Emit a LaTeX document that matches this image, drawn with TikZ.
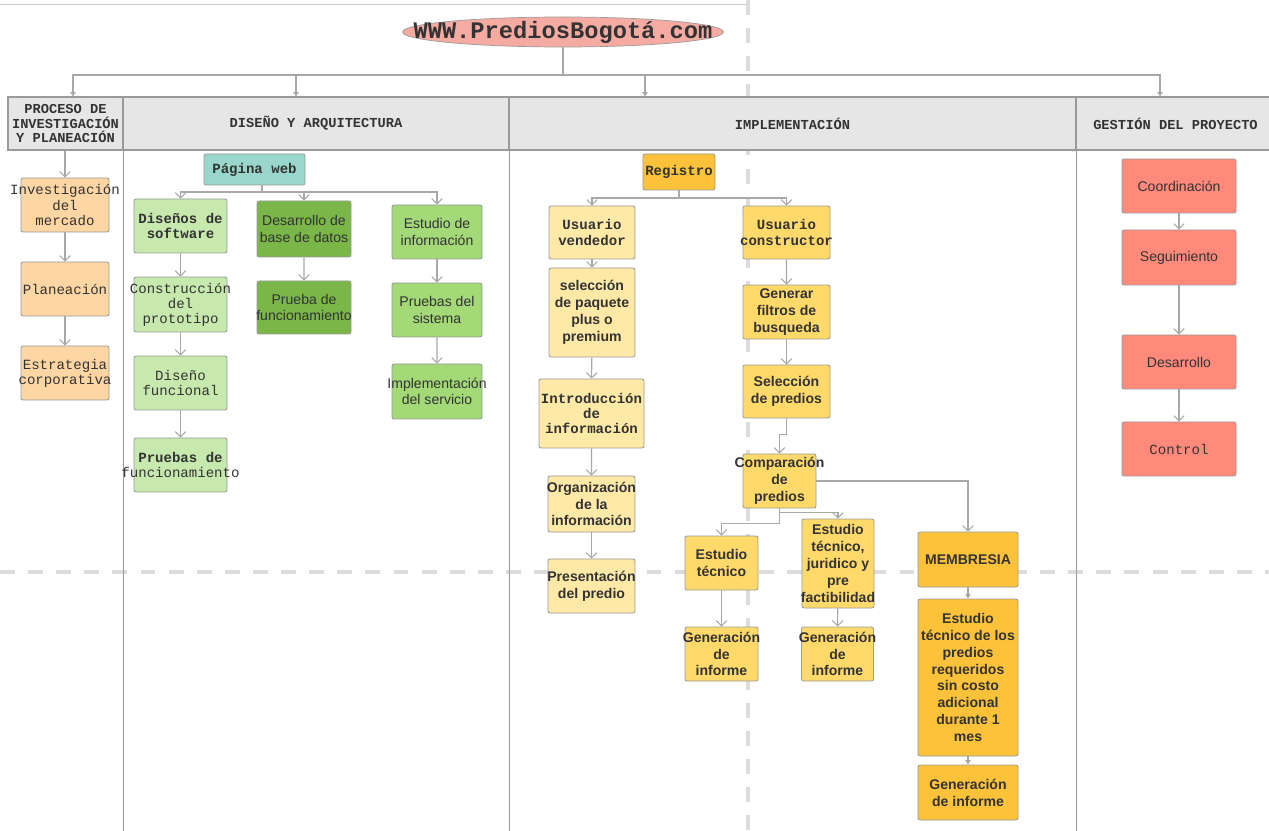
\documentclass[tikz,border=0pt]{standalone}
\usepackage{fontspec}
\setmainfont{Liberation Sans}
\setmonofont{Liberation Mono}
\usetikzlibrary{arrows.meta,shapes.geometric}
\definecolor{boxline}{HTML}{9A9A9A}
\definecolor{linkgray}{HTML}{A8A8A8}
\definecolor{txt}{HTML}{333333}
\definecolor{peach}{HTML}{FDD6A3}
\definecolor{pwteal}{HTML}{99D6CB}
\definecolor{lgreen}{HTML}{C7E9AD}
\definecolor{dgreen}{HTML}{7AB648}
\definecolor{mgreen}{HTML}{A3D977}
\definecolor{lyellow}{HTML}{FFE9A6}
\definecolor{myellow}{HTML}{FFDA6A}
\definecolor{oyellow}{HTML}{FBC23A}
\definecolor{salmon}{HTML}{FF8A7B}
\definecolor{pinkt}{HTML}{F6ABA2}
\definecolor{hdrfill}{HTML}{E6E6E6}
\definecolor{brk}{HTML}{DCDCDC}

\begin{document}
\begin{tikzpicture}[x=0.02cm,y=-0.02cm,
    box/.style args={#1x#2}{draw=boxline,line width=0.5pt,rounded corners=1.2pt,
        minimum width=#1*0.02cm,minimum height=#2*0.02cm,inner xsep=-25pt,inner ysep=0pt,
        align=center,text=txt},
    hdr/.style args={#1x#2}{draw=boxline,line width=0.6pt,fill=hdrfill,
        minimum width=#1*0.02cm,minimum height=#2*0.02cm,inner sep=0pt,align=center,text=txt,
        font=\ttfamily\bfseries\fontsize{7.8}{8.2}\selectfont},
    title/.style={ellipse,draw=boxline,fill=pinkt,minimum width=321*0.02cm,minimum height=30*0.02cm,
        inner xsep=-30pt,inner ysep=-2pt,text=txt,font=\ttfamily\bfseries\fontsize{13.5}{14}\selectfont},
    mono/.style={font=\ttfamily\fontsize{8}{8.6}\selectfont},
    monob/.style={font=\ttfamily\bfseries\fontsize{8}{8.6}\selectfont},
    sans/.style={font=\fontsize{8}{9.2}\selectfont},
    sansb/.style={font=\bfseries\fontsize{8}{9.6}\selectfont},
    link/.style={draw=linkgray,line width=0.6pt},
    tip/.style={link,-{Straight Barb[length=3pt,width=6pt]}},
    tipf/.style={link,-{Triangle[length=2.5pt,width=3pt]}},
    lane/.style={draw=boxline,line width=0.6pt},
    pagebrk/.style={draw=brk,line width=2.2pt,dash pattern=on 8.5pt off 7.5pt}]
    \useasboundingbox (0,0) rectangle (1269,831);

    \draw[link,draw=brk!80!gray,line width=0.5pt] (0,4) -- (748,4);
    \draw[pagebrk] (748,0) -- (748,831);
    \draw[pagebrk] (0,572) -- (1269,572);

    \node[hdr=115x53] (h1) at (65.5,123.5) {PROCESO DE\\INVESTIGACIÓN\\Y PLANEACIÓN};
    \node[hdr=386x53] (h2) at (316,123.5) {DISEÑO Y ARQUITECTURA};
    \node[hdr=567x53] (h3) at (792.5,123.5) {IMPLEMENTACIÓN};
    \node[hdr=199x53] (h4) at (1175.5,123.5) {GESTIÓN DEL PROYECTO};
    \draw[lane] (h1.south east) -- +(0,700);
    \draw[lane] (h2.south east) -- +(0,700);
    \draw[lane] (h3.south east) -- +(0,700);

    \node[title] (web) at (563,32) {WWW.PrediosBogotá.com};

    \node[box=88x54,fill=peach,mono] (inv) at (65,205) {Investigación\\del\\mercado};
    \node[box=88x54,fill=peach,mono] (plan) at (65,289) {Planeación};
    \node[box=88x54,fill=peach,mono] (estr) at (65,373) {Estrategia\\corporativa};

    \node[box=101x31,fill=pwteal,monob] (pw) at (254.5,169.5) {Página web};
    \node[box=93x54,fill=lgreen,monob] (dsw) at (180.5,226) {Diseños de\\software};
    \node[box=93x55,fill=lgreen,mono] (cp) at (180.5,304.5) {Construcción\\del\\prototipo};
    \node[box=93x54,fill=lgreen,mono] (df) at (180.5,383) {Diseño\\funcional};
    \node[box=93x54,fill=lgreen,mono] (pf) at (180.5,465) {{\bfseries Pruebas de}\\funcionamiento};
    \node[box=94x56,fill=dgreen,sans] (dbd) at (304,229) {Desarrollo de\\base de datos};
    \node[box=94x53,fill=dgreen,sans] (pbf) at (304,307.5) {Prueba de\\funcionamiento};
    \node[box=90x54,fill=mgreen,sans] (est) at (437,232) {Estudio de\\información};
    \node[box=90x54,fill=mgreen,sans] (psis) at (437,310) {Pruebas del\\sistema};
    \node[box=90x55,fill=mgreen,sans] (impl) at (437,391.5) {Implementación\\del servicio};

    \node[box=72x36,fill=oyellow,monob] (reg) at (679,172) {Registro};
    \node[box=86x53,fill=lyellow,monob] (uv) at (592,232.5) {Usuario\\vendedor};
    \node[box=86x89,fill=lyellow,sansb] (paq) at (592,312.5) {selección\\de paquete\\plus o\\premium};
    \node[box=105x69,fill=lyellow,monob] (intro) at (591.5,413.5) {Introducción\\de\\información};
    \node[box=87x56,fill=lyellow,sansb] (org) at (591.5,504) {Organización\\de la\\información};
    \node[box=87x54,fill=lyellow,sansb] (pres) at (591.5,586) {Presentación\\del predio};
    \node[box=87x53,fill=myellow,monob] (uc) at (786.5,232.5) {Usuario\\constructor};
    \node[box=87x54,fill=myellow,sansb] (gfb) at (786.5,312) {Generar\\filtros de\\busqueda};
    \node[box=87x53,fill=myellow,sansb] (selp) at (786.5,391.5) {Selección\\de predios};
    \node[box=73x54,fill=myellow,sansb] (comp) at (779.5,481) {Comparación\\de\\predios};
    \node[box=73x54,fill=myellow,sansb] (et1) at (721.5,563) {Estudio\\técnico};
    \node[box=73x54,fill=myellow,sansb] (gi1) at (721.5,654) {Generación\\de\\informe};
    \node[box=72x89,fill=myellow,sansb] (etj) at (838,563.5) {Estudio\\técnico,\\juridico y\\pre\\factibilidad};
    \node[box=72x54,fill=myellow,sansb] (gi2) at (837.5,654) {Generación\\de\\informe};
    \node[box=100x55,fill=oyellow,sansb] (memb) at (968,559.5) {MEMBRESIA};
    \node[box=100x157,fill=oyellow,sansb] (etm) at (968,677.5) {Estudio\\técnico de los\\predios\\requeridos\\sin costo\\adicional\\durante 1\\mes};
    \node[box=100x55,fill=oyellow,sansb] (gim) at (968,792.5) {Generación\\de informe};

    \node[box=114x54,fill=salmon,sans] (coord) at (1179,186) {Coordinación};
    \node[box=114x55,fill=salmon,sans] (seg) at (1179,257.5) {Seguimiento};
    \node[box=114x54,fill=salmon,sans] (desa) at (1179,362) {Desarrollo};
    \node[box=114x54,fill=salmon,mono] (ctrl) at (1179,449) {Control};

    \coordinate (hub) at (563,75);
    \draw[link] (web) -- (hub);
    \draw[tipf] (hub) -| (73,0 |- h1.north);
    \draw[tipf] (hub) -| (296,0 |- h2.north);
    \draw[tipf] (hub) -| (645,0 |- h3.north);
    \draw[tipf] (hub) -| (1160,0 |- h4.north);

    \draw[tip] (h1.south -| inv) -- (inv);
    \draw[tip] (inv) -- (plan);
    \draw[tip] (plan) -- (estr);

    \coordinate (pwj) at (262,192);
    \draw[link] (pw.south -| pwj) -- (pwj);
    \draw[tip] (pwj) -| (dsw.north);
    \draw[tip] (pwj) -| (dbd.north);
    \draw[tip] (pwj) -| (est.north);
    \draw[tip] (dsw) -- (cp);
    \draw[tip] (cp) -- (df);
    \draw[tip] (df) -- (pf);
    \draw[tip] (dbd) -- (pbf);
    \draw[tip] (est) -- (psis);
    \draw[tip] (psis) -- (impl);

    \coordinate (regj) at (679,198);
    \draw[link] (reg) -- (regj);
    \draw[tip] (regj) -| (uv.north);
    \draw[tip] (regj) -| (uc.north);
    \draw[tip] (uv) -- (paq);
    \draw[tip] (paq) -- (intro);
    \draw[tip] (intro) -- (org);
    \draw[tip] (org) -- (pres);
    \draw[tip] (uc) -- (gfb);
    \draw[tip] (gfb) -- (selp);
    \draw[tip] (selp.south) -- ++(0,16) -| (comp.north);
    \draw[tip] (comp.east) -| (memb.north);
    \draw[tip] (comp.south) -- ++(0,15) -| (et1.north);
    \draw[tip] (comp.south) -- ++(0,4) -| (etj.north);
    \draw[tip] (et1) -- (gi1);
    \draw[tip] (etj) -- (gi2);
    \draw[tipf] (memb) -- (etm);
    \draw[tipf] (etm) -- (gim);

    \draw[tip] (coord) -- (seg);
    \draw[tip] (seg) -- (desa);
    \draw[tip] (desa) -- (ctrl);
\end{tikzpicture}
\end{document}
